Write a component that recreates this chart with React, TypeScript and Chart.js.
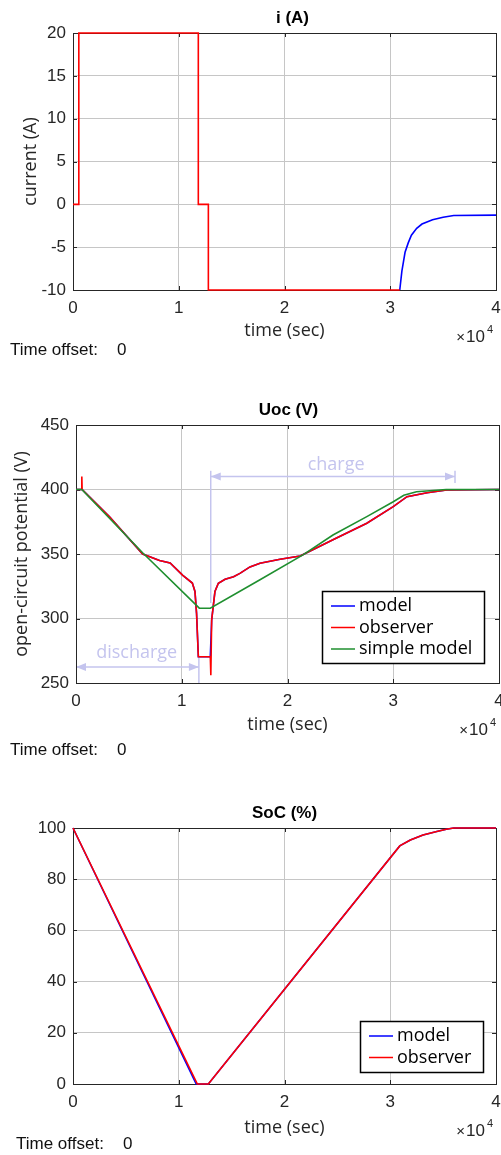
import React, { useEffect, useRef } from 'react';
import { Chart, registerables } from 'chart.js';

Chart.register(...registerables);

// ---------------- data ----------------
const xTickLabels = ['0', '1', '2', '3', '4'];
const timeMin = 0;
const timeMax = 40000;
const timeStep = 10000;

// Plot 1 : current i (A)
const currentObserverT = [0, 550, 550, 11850, 11850, 12800, 12800, 30900];
const currentObserverV = [0, 0, 20, 20, 0, 0, -10, -10];
const currentModelT = [30900, 31100, 31400, 31700, 32000, 32500, 33000, 34000, 35000, 36000, 40000];
const currentModelV = [-10, -7.8, -5.6, -4.5, -3.6, -2.8, -2.3, -1.8, -1.5, -1.3, -1.26];

// Plot 2 : Uoc (V)
const uocModelT = [0, 520, 580, 3150, 6300, 7900, 8900, 10100, 11000, 11250, 11400, 11570, 12700, 12830, 13140, 13460, 14100, 14900, 15500, 16450, 17400, 19300, 21200, 24300, 27500, 30000, 31300, 33200, 35050, 40000];
const uocModelV = [400, 400, 400, 379, 350, 345, 343, 333.5, 327.5, 321, 304, 270.4, 270.4, 299, 321, 327.3, 330.4, 332.4, 335, 340, 342.8, 345.9, 348.4, 361, 373.8, 386.7, 394.4, 397.5, 399.6, 400];
const uocObserverT = [0, 520, 550, 580, 3150, 6300, 7900, 8900, 10100, 11000, 11250, 11400, 11570, 12700, 12750, 12830, 13140, 13460, 14100, 14900, 15500, 16450, 17400, 19300, 21200, 24300, 27500, 30000, 31300, 33200, 35050, 40000];
const uocObserverV = [400, 400, 410, 400, 379, 350, 345, 343, 333.5, 327.5, 321, 304, 270.4, 270.4, 256, 299, 321, 327.3, 330.4, 332.4, 335, 340, 342.8, 345.9, 348.4, 361, 373.8, 386.7, 394.4, 397.5, 399.6, 400];
const uocSimpleT = [0, 550, 6300, 11660, 12700, 17400, 21500, 24300, 27500, 30000, 31000, 32200, 35000, 40000];
const uocSimpleV = [400, 400, 351, 308, 308, 330, 349.5, 364.7, 379, 390.5, 395.5, 398.3, 400, 400];

// Plot 2 annotations (data units)
const chargeArrow = { from: 12740, to: 35840, level: 410 };
const chargeMarkers = [
  { t: 12740, low: 312, high: 414.5 },
  { t: 35840, low: 405, high: 414.5 },
];
const chargeLabel = { text: 'charge', t: 24600, v: 415.5 };
const dischargeArrow = { from: 0, to: 11620, level: 262.5 };
const dischargeMarkers = [{ t: 11620, low: 250, high: 269.5 }];
const dischargeLabel = { text: 'discharge', t: 5740, v: 269.3 };

// Plot 3 : SoC (%)
const socModelT = [0, 11650, 12800, 30900, 31900, 33100, 34400, 35300, 36000, 40000];
const socModelV = [100, 0, 0, 93, 95.3, 97.3, 98.6, 99.5, 100, 100];
const socObserverT = [0, 11760, 12800, 30900, 31900, 33100, 34400, 35300, 36000, 40000];
const socObserverV = [100, 0, 0, 93, 95.3, 97.3, 98.6, 99.5, 100, 100];

// ---------------- styles ----------------
const FONT_TICK = '"Liberation Sans", Arial, sans-serif';
const FONT_LABEL = '"Open Sans", sans-serif';
const AXIS_COLOR = '#262626';
const GRID_COLOR = '#c6c6c6';
const ANNOT_COLOR = '#c4c4ee';
const BLUE = '#0000ff';
const RED = '#ff0000';
const GREEN = '#1f8f2f';
const W = 501;

type Series = { label: string; t: number[]; v: number[]; color: string; order: number };
type Spec = {
  top: number;
  height: number;
  T: number; B: number; L: number; R: number;
  title: string;
  titleDx: number;
  yTitle?: string;
  yTitleCenterX?: number;
  xTitleDy: number;
  yMin: number; yMax: number; yStep: number;
  series: Series[];
  legend?: { right: number; bottom: number };
  timeOffsetX: number;
  timeOffsetDy: number;
  annotations?: boolean;
};

const LABEL_SIZE = 18;
const LABEL_LH = LABEL_SIZE * 1.2;

const specs: Spec[] = [
  {
    top: 0, height: 362, T: 33, B: 290, L: 73, R: 496,
    title: 'i (A)', titleDx: 8,
    yTitle: 'current (A)', yTitleCenterX: 31,
    xTitleDy: 41,
    yMin: -10, yMax: 20, yStep: 5,
    series: [
      { label: 'model', t: currentModelT, v: currentModelV, color: BLUE, order: 1 },
      { label: 'observer', t: currentObserverT, v: currentObserverV, color: RED, order: 0 },
    ],
    timeOffsetX: 10, timeOffsetDy: 65,
  },
  {
    top: 362, height: 406, T: 63, B: 321, L: 76, R: 499,
    title: 'Uoc (V)', titleDx: 1,
    yTitle: 'open-circuit potential (V)', yTitleCenterX: 22,
    xTitleDy: 42,
    yMin: 250, yMax: 450, yStep: 50,
    series: [
      { label: 'model', t: uocModelT, v: uocModelV, color: BLUE, order: 2 },
      { label: 'observer', t: uocObserverT, v: uocObserverV, color: RED, order: 1 },
      { label: 'simple model', t: uocSimpleT, v: uocSimpleV, color: GREEN, order: 0 },
    ],
    legend: { right: 15, bottom: 20 },
    timeOffsetX: 10, timeOffsetDy: 72,
    annotations: true,
  },
  {
    top: 768, height: 387, T: 60, B: 316, L: 73, R: 496,
    title: 'SoC (%)', titleDx: 0,
    xTitleDy: 44,
    yMin: 0, yMax: 100, yStep: 20,
    series: [
      { label: 'model', t: socModelT, v: socModelV, color: BLUE, order: 1 },
      { label: 'observer', t: socObserverT, v: socObserverV, color: RED, order: 0 },
    ],
    legend: { right: 13, bottom: 12 },
    timeOffsetX: 16, timeOffsetDy: 65,
  },
];

function pts(t: number[], v: number[]) {
  return t.map((x, i) => ({ x, y: v[i] }));
}

function arrowHead(ctx: CanvasRenderingContext2D, tipX: number, y: number, dir: number) {
  const len = 10;
  const half = 4;
  ctx.beginPath();
  ctx.moveTo(tipX, y);
  ctx.lineTo(tipX - dir * len, y - half);
  ctx.lineTo(tipX - dir * len, y + half);
  ctx.closePath();
  ctx.fill();
}

function makePlugins(spec: Spec) {
  const frame = {
    id: 'frame',
    beforeDatasetsDraw(chart: any) {
      const { ctx, chartArea: a, scales } = chart;
      ctx.save();
      if (spec.annotations) {
        const xs = scales.x;
        const ys = scales.y;
        ctx.strokeStyle = ANNOT_COLOR;
        ctx.fillStyle = ANNOT_COLOR;
        ctx.lineWidth = 1.5;
        const spans = [
          { arrow: chargeArrow, markers: chargeMarkers, label: chargeLabel },
          { arrow: dischargeArrow, markers: dischargeMarkers, label: dischargeLabel },
        ];
        for (const s of spans) {
          const x0 = xs.getPixelForValue(s.arrow.from);
          const x1 = xs.getPixelForValue(s.arrow.to);
          const y = ys.getPixelForValue(s.arrow.level);
          ctx.beginPath();
          ctx.moveTo(x0, y);
          ctx.lineTo(x1, y);
          ctx.stroke();
          arrowHead(ctx, x0, y, -1);
          arrowHead(ctx, x1, y, 1);
          for (const m of s.markers) {
            const mx = xs.getPixelForValue(m.t);
            ctx.beginPath();
            ctx.moveTo(mx, ys.getPixelForValue(m.low));
            ctx.lineTo(mx, ys.getPixelForValue(m.high));
            ctx.stroke();
          }
          ctx.font = `${LABEL_SIZE}px ${FONT_LABEL}`;
          ctx.textAlign = 'center';
          ctx.textBaseline = 'alphabetic';
          ctx.fillText(s.label.text, xs.getPixelForValue(s.label.t), ys.getPixelForValue(s.label.v));
        }
      }
      ctx.strokeStyle = AXIS_COLOR;
      ctx.lineWidth = 1;
      ctx.strokeRect(a.left + 0.5, a.top + 0.5, a.right - a.left, a.bottom - a.top);
      const tl = 4;
      ctx.beginPath();
      for (const t of scales.x.ticks) {
        const px = Math.round(scales.x.getPixelForValue(t.value)) + 0.5;
        ctx.moveTo(px, a.bottom);
        ctx.lineTo(px, a.bottom - tl);
        ctx.moveTo(px, a.top);
        ctx.lineTo(px, a.top + tl);
      }
      for (const t of scales.y.ticks) {
        const py = Math.round(scales.y.getPixelForValue(t.value)) + 0.5;
        ctx.moveTo(a.left, py);
        ctx.lineTo(a.left + tl, py);
        ctx.moveTo(a.right, py);
        ctx.lineTo(a.right - tl, py);
      }
      ctx.stroke();
      ctx.restore();
    },
  };

  const texts = {
    id: 'texts',
    afterDraw(chart: any) {
      const { ctx, chartArea: a } = chart;
      ctx.save();
      ctx.fillStyle = '#000';
      ctx.font = `bold 17px ${FONT_TICK}`;
      ctx.textAlign = 'center';
      ctx.textBaseline = 'alphabetic';
      ctx.fillText(spec.title, (a.left + a.right) / 2 + spec.titleDx, a.top - 10);
      ctx.fillStyle = AXIS_COLOR;
      ctx.textAlign = 'right';
      ctx.font = `17px ${FONT_TICK}`;
      const by = a.bottom + 52;
      ctx.fillText('10', a.right - 11, by);
      const w10 = ctx.measureText('10').width;
      ctx.font = `15px ${FONT_TICK}`;
      ctx.fillText('\u00d7', a.right - 12 - w10, by);
      ctx.textAlign = 'left';
      ctx.font = `11px ${FONT_TICK}`;
      ctx.fillText('4', a.right - 9, by - 9);
      ctx.fillStyle = '#111';
      ctx.font = `17px ${FONT_TICK}`;
      ctx.textAlign = 'left';
      ctx.fillText('Time offset:', spec.timeOffsetX, a.bottom + spec.timeOffsetDy);
      ctx.fillText('0', spec.timeOffsetX + 107, a.bottom + spec.timeOffsetDy);
      ctx.restore();
    },
  };

  const legend = {
    id: 'boxLegend',
    afterDatasetsDraw(chart: any) {
      if (!spec.legend) return;
      const { ctx, chartArea: a } = chart;
      const ds = chart.data.datasets;
      ctx.save();
      ctx.font = `${LABEL_SIZE}px ${FONT_LABEL}`;
      let maxW = 0;
      for (const d of ds) maxW = Math.max(maxW, ctx.measureText(d.label).width);
      const bw = Math.round(37 + maxW + 12);
      const bh = Math.round(15 + 21.5 * (ds.length - 1) + 14);
      const right = a.right - spec.legend.right;
      const bottom = a.bottom - spec.legend.bottom;
      const left = right - bw;
      const top = bottom - bh;
      ctx.fillStyle = '#fff';
      ctx.fillRect(left, top, bw, bh);
      ctx.strokeStyle = '#000';
      ctx.lineWidth = 1.5;
      ctx.strokeRect(left + 0.5, top + 0.5, bw, bh);
      ds.forEach((d: any, i: number) => {
        const y = top + 15 + 21.5 * i;
        ctx.strokeStyle = d.borderColor;
        ctx.lineWidth = 1.5;
        ctx.beginPath();
        ctx.moveTo(left + 9, y);
        ctx.lineTo(left + 33, y);
        ctx.stroke();
        ctx.fillStyle = '#000';
        ctx.textAlign = 'left';
        ctx.textBaseline = 'alphabetic';
        ctx.fillText(d.label, left + 37, y + 5);
      });
      ctx.restore();
    },
  };
  return [frame, legend, texts];
}

function buildConfig(spec: Spec): any {
  const H = spec.height;
  const tickFont = { family: FONT_TICK, size: 17 };
  const labelFont = { family: FONT_LABEL, size: LABEL_SIZE, lineHeight: 1.2 };
  const xTitlePadBottom = H - (spec.B + spec.xTitleDy) - LABEL_LH / 2;
  const yTitlePadTop = (spec.yTitleCenterX ?? 20) - LABEL_LH / 2;
  return {
    type: 'line',
    data: {
      datasets: spec.series.map((s) => ({
        label: s.label,
        data: pts(s.t, s.v),
        borderColor: s.color,
        backgroundColor: s.color,
        borderWidth: 1.6,
        pointRadius: 0,
        pointHoverRadius: 0,
        tension: 0,
        fill: false,
        order: s.order,
        clip: 3,
      })),
    },
    options: {
      animation: false,
      responsive: false,
      devicePixelRatio: 1,
      events: [],
      layout: { padding: { top: spec.T, right: W - spec.R, left: 0, bottom: 0 } },
      plugins: {
        legend: { display: false },
        title: { display: false },
        tooltip: { enabled: false },
      },
      scales: {
        x: {
          type: 'linear',
          min: timeMin,
          max: timeMax,
          ticks: {
            stepSize: timeStep,
            autoSkip: false,
            maxRotation: 0,
            color: AXIS_COLOR,
            font: tickFont,
            padding: 8,
            callback: (value: number) => xTickLabels[Math.round(value / timeStep)] ?? '',
          },
          grid: { color: GRID_COLOR, drawTicks: false, lineWidth: 1 },
          border: { display: false },
          title: {
            display: true,
            text: 'time (sec)',
            color: AXIS_COLOR,
            font: labelFont,
            padding: { top: 0, bottom: xTitlePadBottom },
          },
          afterFit: (s: any) => {
            s.height = H - spec.B;
            s.paddingLeft = 0;
            s.paddingRight = 0;
          },
        },
        y: {
          type: 'linear',
          min: spec.yMin,
          max: spec.yMax,
          ticks: {
            stepSize: spec.yStep,
            color: AXIS_COLOR,
            font: tickFont,
            padding: 7,
          },
          grid: { color: GRID_COLOR, drawTicks: false, lineWidth: 1 },
          border: { display: false },
          title: {
            display: !!spec.yTitle,
            text: spec.yTitle ?? '',
            color: AXIS_COLOR,
            font: labelFont,
            padding: { top: yTitlePadTop, bottom: 0 },
          },
          afterFit: (s: any) => {
            s.width = spec.L;
            s.paddingTop = 0;
            s.paddingBottom = 0;
          },
        },
      },
    },
    plugins: makePlugins(spec),
  };
}

function Plot({ spec }: { spec: Spec }) {
  const ref = useRef<HTMLCanvasElement>(null);
  useEffect(() => {
    if (!ref.current) return;
    const chart = new Chart(ref.current, buildConfig(spec));
    return () => chart.destroy();
  }, [spec]);
  return (
    <div style={{ position: 'absolute', left: 0, top: spec.top, width: W, height: spec.height }}>
      <canvas ref={ref} width={W} height={spec.height} style={{ display: 'block', width: W, height: spec.height }} />
    </div>
  );
}

export default function App() {
  return (
    <div style={{ position: 'absolute', left: 0, top: 0, width: W, height: 1155, background: '#fff', overflow: 'hidden' }}>
      {specs.map((s, i) => (
        <Plot key={i} spec={s} />
      ))}
    </div>
  );
}
